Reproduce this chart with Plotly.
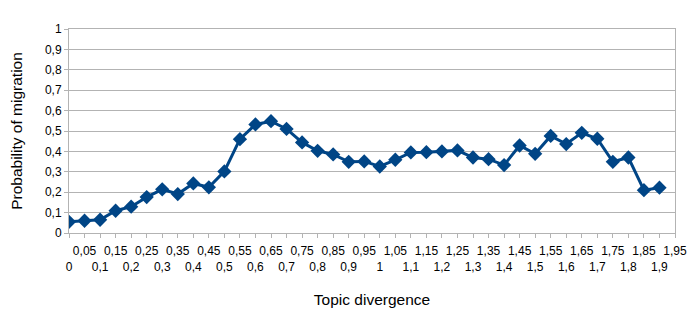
import plotly.graph_objects as go

x_values = [round(i * 0.05, 2) for i in range(39)]
probability = [0.055, 0.06, 0.065, 0.109, 0.129, 0.176, 0.214, 0.191, 0.243, 0.224,
               0.302, 0.46, 0.532, 0.548, 0.51, 0.444, 0.403, 0.385, 0.349, 0.351,
               0.326, 0.359, 0.395, 0.396, 0.40, 0.405, 0.37, 0.362, 0.333, 0.429,
               0.388, 0.476, 0.436, 0.491, 0.462, 0.349, 0.37, 0.21, 0.222]
tick_positions = [round(i * 0.05, 2) for i in range(40)]
tick_strings = [("%g" % v).replace(".", ",") for v in tick_positions]
tick_labels = [("<br>" + s) if i % 2 == 0 else s for i, s in enumerate(tick_strings)]
y_ticks = [round(i * 0.1, 1) for i in range(11)]
y_labels = [("%g" % v).replace(".", ",") for v in y_ticks]

color = "#004586"
fig = go.Figure(go.Scatter(
    x=x_values, y=probability, mode="lines+markers",
    line=dict(color=color, width=3),
    marker=dict(symbol="diamond", size=11, color=color),
    showlegend=False,
))

font = "Liberation Sans, Arial, sans-serif"
# page body has an 8px default margin, so the figure is 8px smaller
fig.update_layout(
    width=691, height=302,
    margin=dict(l=61, r=24, t=21, b=77),
    plot_bgcolor="white", paper_bgcolor="white",
    font=dict(family=font, size=12, color="black"),
)
fig.update_xaxes(
    range=[0, 1.95], tickmode="array", tickvals=tick_positions, ticktext=tick_labels,
    ticks="outside", ticklen=4, tickcolor="#b3b3b3", showgrid=False,
    showline=True, linecolor="#b3b3b3", linewidth=1, mirror=True,
    tickangle=0, zeroline=False, ticklabelstandoff=3,
    title=dict(text="Topic divergence", font=dict(size=15.5), standoff=21),
    automargin=False,
)
fig.update_yaxes(
    range=[0, 1], tickmode="array", tickvals=y_ticks, ticktext=y_labels,
    ticks="outside", ticklen=4, tickcolor="#b3b3b3",
    showgrid=True, gridcolor="#b3b3b3", gridwidth=1,
    showline=True, linecolor="#b3b3b3", linewidth=1, mirror=True, zeroline=False,
    title=dict(text="Probability of migration", font=dict(size=15.5), standoff=24),
    automargin=False,
)
fig.write_html("out.html")
